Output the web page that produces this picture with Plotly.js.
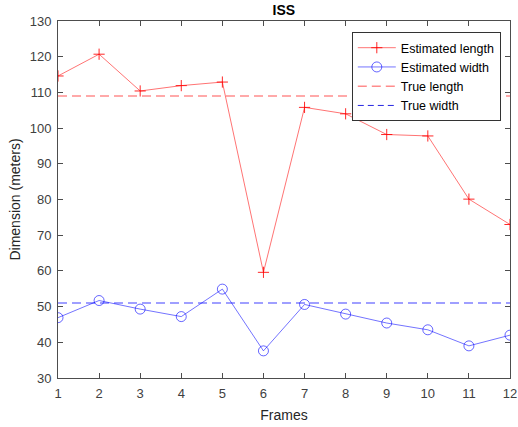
<!DOCTYPE html>
<html>
<head>
<meta charset="utf-8">
<script src="https://cdn.plot.ly/plotly-3.0.1.min.js"></script>
<style>html,body{margin:0;padding:0;background:#fff;}#chart{width:518px;height:427px;}</style>
</head>
<body>
<div id="chart"></div>
<script>
const frames = [1,2,3,4,5,6,7,8,9,10,11,12];
const estimatedLength = [114.6,120.7,110.4,111.9,112.9,59.6,105.8,104.0,98.2,97.8,80.1,73.0];
const estimatedWidth = [46.9,51.7,49.3,47.2,54.9,37.6,50.6,47.9,45.4,43.5,39.0,42.0];
const trueLength = 109;
const trueWidth = 51;
const yTicks = [30,40,50,60,70,80,90,100,110,120,130];

const xEnds = [frames[0], frames[frames.length-1]];
const font = "Liberation Sans, Arial, sans-serif";

const traces = [
  {x: frames, y: estimatedLength, name: 'Estimated length', mode: 'lines+markers',
   line: {color: 'rgba(255,0,0,0.55)', width: 1},
   marker: {symbol: 'cross-thin-open', size: 8, color: 'rgba(255,0,0,0.85)', line: {color: 'rgba(255,0,0,0.85)', width: 1}}},
  {x: frames, y: estimatedWidth, name: 'Estimated width', mode: 'lines+markers',
   line: {color: 'rgba(0,0,255,0.55)', width: 1},
   marker: {symbol: 'circle-open', size: 10, color: 'rgba(0,0,255,0.6)', line: {color: 'rgba(0,0,255,0.6)', width: 1}}},
  {x: xEnds, y: [trueLength, trueLength], name: 'True length', mode: 'lines',
   line: {color: 'rgba(255,0,0,0.45)', width: 1.5, dash: '9px,5px'}},
  {x: xEnds, y: [trueWidth, trueWidth], name: 'True width', mode: 'lines', showlegend: false,
   line: {color: 'rgba(0,0,255,0.5)', width: 1.5, dash: '9px,5px'}},
  {x: [null], y: [null], name: 'True width', mode: 'lines',
   line: {color: 'rgba(0,0,220,0.85)', width: 1, dash: '6px,4px'}}
];

const layout = {
  width: 518, height: 427,
  margin: {l: 57.5, r: 7.5, t: 21, b: 49},
  paper_bgcolor: '#fff', plot_bgcolor: '#fff',
  font: {family: font, size: 13, color: '#262626'},
  title: {text: '<b>ISS</b>', font: {family: font, size: 14, color: '#000'}, x: 0.548, xanchor: 'center', y: 0.977, yanchor: 'middle'},
  showlegend: true,
  legend: {x: 0.65, y: 0.969, xanchor: 'left', yanchor: 'top', bgcolor: '#fff', bordercolor: '#333', borderwidth: 1,
           font: {family: font, size: 12.5, color: '#000'}, tracegroupgap: 0, itemwidth: 38},
  xaxis: {range: [1, 12], tickvals: frames, ticks: 'inside', ticklen: 5, tickcolor: '#4d4d4d',
          showline: true, linecolor: '#4d4d4d', linewidth: 1, mirror: 'ticks', showgrid: false, zeroline: false,
          tickfont: {size: 13, color: '#404040'}, ticklabelstandoff: 3,
          title: {text: 'Frames', font: {size: 14, color: '#262626'}, standoff: 10}},
  yaxis: {range: [30, 130], tickvals: yTicks, ticks: 'inside', ticklen: 5, tickcolor: '#4d4d4d',
          showline: true, linecolor: '#4d4d4d', linewidth: 1, mirror: 'ticks', showgrid: false, zeroline: false,
          tickfont: {size: 13, color: '#404040'}, ticklabelstandoff: 3,
          title: {text: 'Dimension (meters)', font: {size: 14, color: '#262626'}, standoff: 5}}
};

Plotly.newPlot('chart', traces, layout, {displayModeBar: false, staticPlot: true});
</script>
</body>
</html>
